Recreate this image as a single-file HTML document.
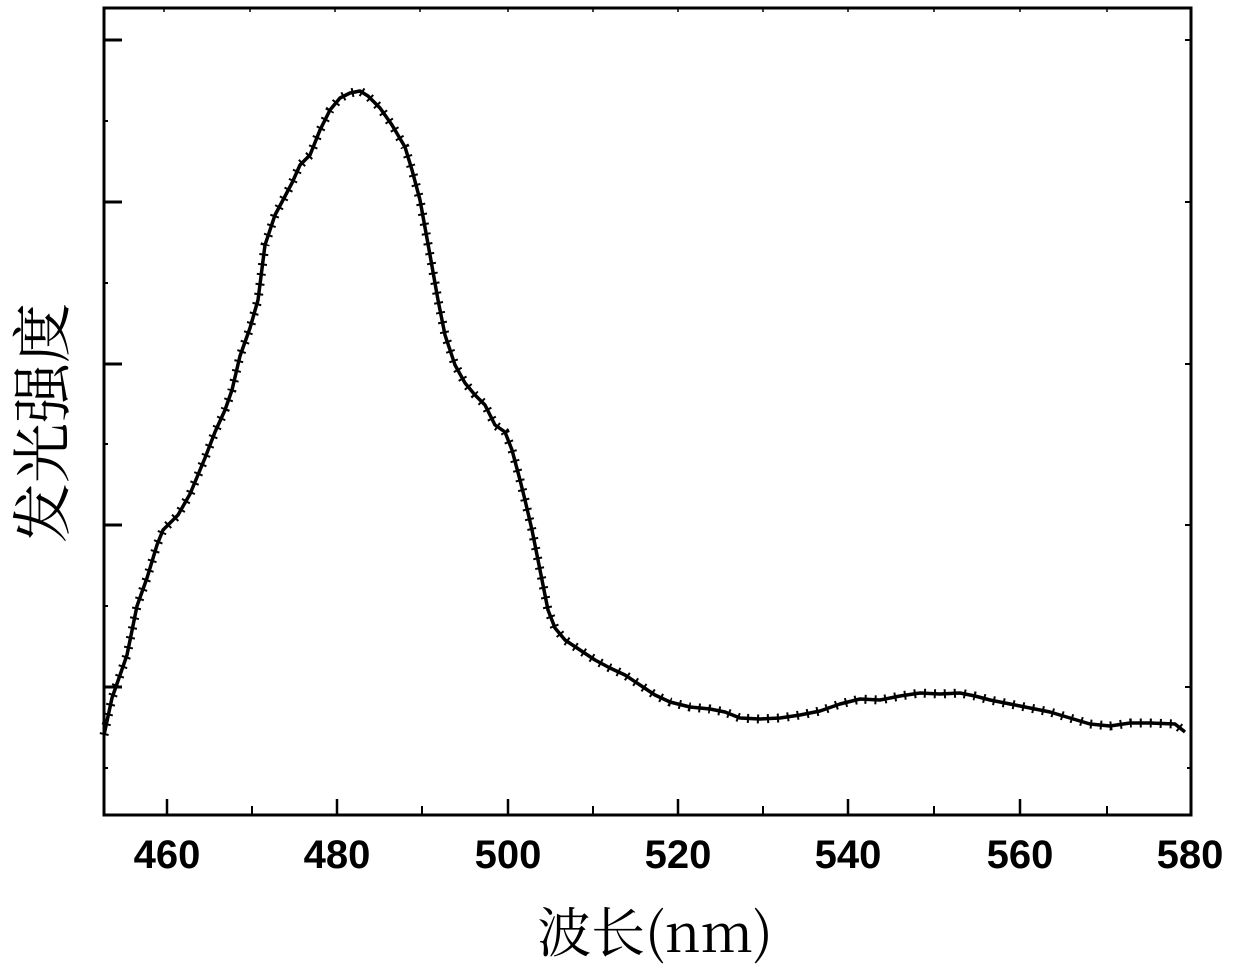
<!DOCTYPE html>
<html><head><meta charset="utf-8"><style>
html,body{margin:0;padding:0;background:#fff;}
</style></head><body>
<svg width="1240" height="970" viewBox="0 0 1240 970" xmlns="http://www.w3.org/2000/svg">
<defs>
<polyline id="cv" points="104,735 112,698 127,655 137,606 147,578 157,545 163,530 178,515 190,494 205,458 215,432 225,410 232,390 240,356 250,328 258,300 265,245 275,215 283,200 292,183 300,165 310,155 320,130 330,110 340,98 350,93 360,91 368,96 380,108 392,125 405,147 412,170 420,200 430,255 438,300 445,335 455,365 465,383 475,395 485,405 495,425 505,432 512,450 520,480 525,500 532,530 540,570 548,610 555,628 565,640 580,650 595,660 610,668 625,675 640,685 655,695 670,702 690,707 710,709 725,712 740,718 760,719 780,718 800,715 820,711 840,704 860,699 880,700 900,696 920,693 940,694 960,693 975,696 990,700 1010,704 1030,708 1050,712 1070,718 1090,724 1110,726 1130,723 1150,723 1175,724 1185,732"/>
</defs>
<rect x="0" y="0" width="1240" height="970" fill="#fff"/>
<g stroke="#000" fill="none">
<rect x="104" y="8" width="1087" height="807" stroke-width="3"/>
<path d="M104 40H122M104 202H122M104 364H122M104 525H122M104 687H122" stroke-width="3"/>
<path d="M104 121H108M104 283H108M104 444H108M104 606H108M104 768H108" stroke-width="2"/>
<path d="M1191 40H1185M1191 202H1185M1191 364H1185M1191 525H1185M1191 687H1185M1191 768H1187" stroke-width="2"/>
<path d="M167 815V799M337 815V799M508 815V799M678 815V799M848 815V799M1020 815V799" stroke-width="2.5"/>
<path d="M252 815V806M422 815V806M593 815V806M763 815V806M934 815V806M1107 815V806" stroke-width="2"/>
<path d="M164 8V12M250 8V12M335 8V12M420 8V12M508 8V12M593 8V12M678 8V12M763 8V12M848 8V12M934 8V12M1020 8V12M1107 8V12" stroke-width="1.5"/>
<use href="#cv" stroke-width="3.5" stroke-linejoin="round"/>
<use href="#cv" stroke-width="9" stroke-dasharray="2 8"/>
</g>
<g font-family="Liberation Sans, sans-serif" font-weight="bold" font-size="40" text-anchor="middle" fill="#000">
<text x="167" y="868">460</text><text x="337" y="868">480</text><text x="508" y="868">500</text>
<text x="678" y="868">520</text><text x="848" y="868">540</text><text x="1020" y="868">560</text><text x="1190" y="868">580</text>
</g>
<text x="655" y="952" font-family="'Noto Serif CJK SC', serif" font-size="54" text-anchor="middle">波长(nm)</text>
<text transform="translate(64,423) rotate(-90)" font-family="'Noto Serif CJK SC', serif" font-size="60" text-anchor="middle">发光强度</text>
</svg>
</body></html>
